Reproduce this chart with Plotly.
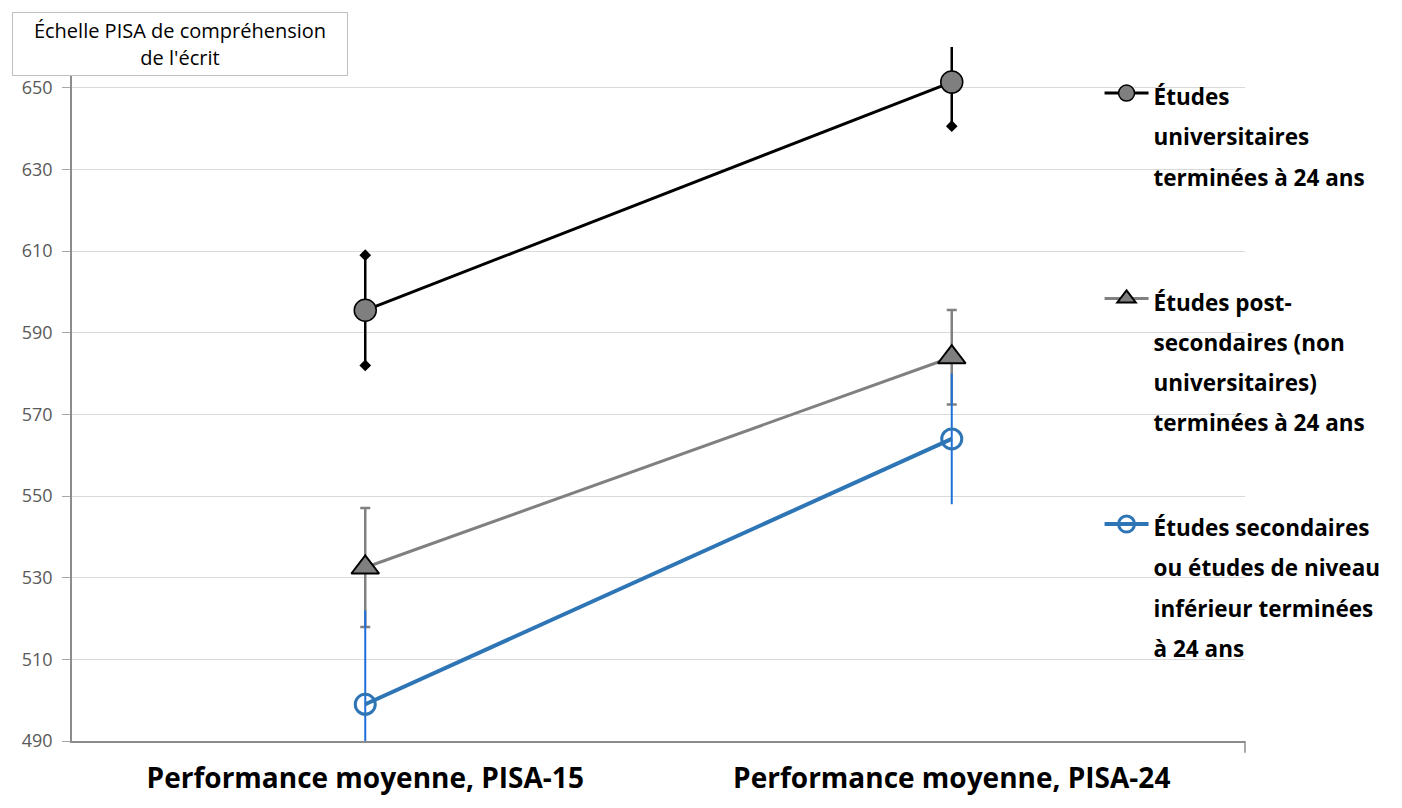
import plotly.graph_objects as go

categories = ["Performance moyenne, PISA-15", "Performance moyenne, PISA-24"]

univ_vals = [595.5, 651.4]
univ_err = [13.5, 10.8]

post_vals = [532.5, 584.0]
post_err = [14.6, 11.6]

sec_vals = [499.0, 564.0]
sec_err = [23.0, 16.0]

names = [
    ["Études", "universitaires", "terminées à 24 ans"],
    ["Études post-", "secondaires (non", "universitaires)", "terminées à 24 ans"],
    ["Études secondaires", "ou études de niveau", "inférieur terminées", "à 24 ans"],
]

y_ticks = [490, 510, 530, 550, 570, 590, 610, 630, 650]


def legend_name(lines, size=22.5):
    return "<br>".join(f"<span style='font-size:{size}px'>{l}</span>" for l in lines)


BLACK = "#000000"
GRAY = "#808080"
BLUE_LINE = "#2E75B6"
BLUE_ERR = "#1F6FD8"

fig = go.Figure()

# University: caps drawn as diamonds at the error bar ends
fig.add_trace(go.Scatter(
    x=categories + categories,
    y=[v + e for v, e in zip(univ_vals, univ_err)] + [v - e for v, e in zip(univ_vals, univ_err)],
    mode="markers",
    marker=dict(symbol="diamond", size=9, color=BLACK),
    showlegend=False, hoverinfo="skip",
))

fig.add_trace(go.Scatter(
    x=categories, y=univ_vals, mode="lines+markers",
    name=legend_name(names[0]),
    line=dict(color=BLACK, width=3),
    marker=dict(symbol="circle", size=22, color="#7f7f7f", line=dict(color=BLACK, width=1.5)),
    error_y=dict(type="data", array=univ_err, color=BLACK, thickness=2.5, width=0),
    legend="legend",
))

fig.add_trace(go.Scatter(
    x=categories, y=post_vals, mode="lines+markers",
    name=legend_name(names[1]),
    line=dict(color=GRAY, width=3),
    marker=dict(symbol="triangle-up", size=24, color="#7f7f7f", line=dict(color=BLACK, width=2)),
    error_y=dict(type="data", array=post_err, color=GRAY, thickness=2.5, width=5),
    legend="legend2",
))

fig.add_trace(go.Scatter(
    x=categories, y=sec_vals, mode="lines+markers",
    name=legend_name(names[2]),
    line=dict(color=BLUE_LINE, width=4),
    marker=dict(symbol="circle-open", size=20, color=BLUE_LINE, line=dict(width=3)),
    error_y=dict(type="data", array=sec_err, color=BLUE_ERR, thickness=2, width=0),
    legend="legend3",
))

legend_common = dict(
    xanchor="left", yanchor="top", x=0.876,
    font=dict(family="Open Sans", size=31, color="#000000", weight="bold"),
    valign="top", itemwidth=44, bgcolor="rgba(0,0,0,0)",
)

fig.update_layout(
    width=1402, height=808,
    margin=dict(l=72, r=157, t=47, b=60),
    paper_bgcolor="white", plot_bgcolor="white",
    legend=dict(y=0.972, **legend_common),
    legend2=dict(y=0.676, **legend_common),
    legend3=dict(y=0.351, **legend_common),
    xaxis=dict(
        type="category", range=[-0.5, 1.5],
        showgrid=False, showline=True, linecolor="#8c8c8c", linewidth=1.5,
        ticks="", ticklabelstandoff=12,
        tickfont=dict(family="Open Sans", size=28, color="#000000", weight="bold"),
    ),
    yaxis=dict(
        range=[490, 660], tickvals=y_ticks,
        showgrid=True, gridcolor="#d9d9d9", gridwidth=1,
        showline=True, linecolor="#8c8c8c", linewidth=1.5,
        ticks="outside", ticklen=8, tickcolor="#a6a6a6",
        ticklabelstandoff=6,
        tickfont=dict(family="Open Sans", size=18, color="#595959"),
        zeroline=False,
    ),
    shapes=[dict(type="line", xref="paper", yref="paper", x0=1, x1=1, y0=0, y1=-0.017,
                 line=dict(color="#8c8c8c", width=1.5))],
    annotations=[dict(
        xref="paper", yref="paper", x=0.0921, y=1.0043, xanchor="center", yanchor="middle",
        text="<span style='font-size:20px'>Échelle PISA de compréhension</span><br>"
             "<span style='font-size:20px'>de l'écrit</span>",
        showarrow=False, align="center",
        font=dict(family="Open Sans", size=21.5, color="#000000"),
        width=330, height=58, bgcolor="white", bordercolor="#bfbfbf", borderwidth=1, borderpad=2,
    )],
)

fig.write_html("out.html", config={"displayModeBar": False},
               post_script="document.body.style.margin='0px';")
